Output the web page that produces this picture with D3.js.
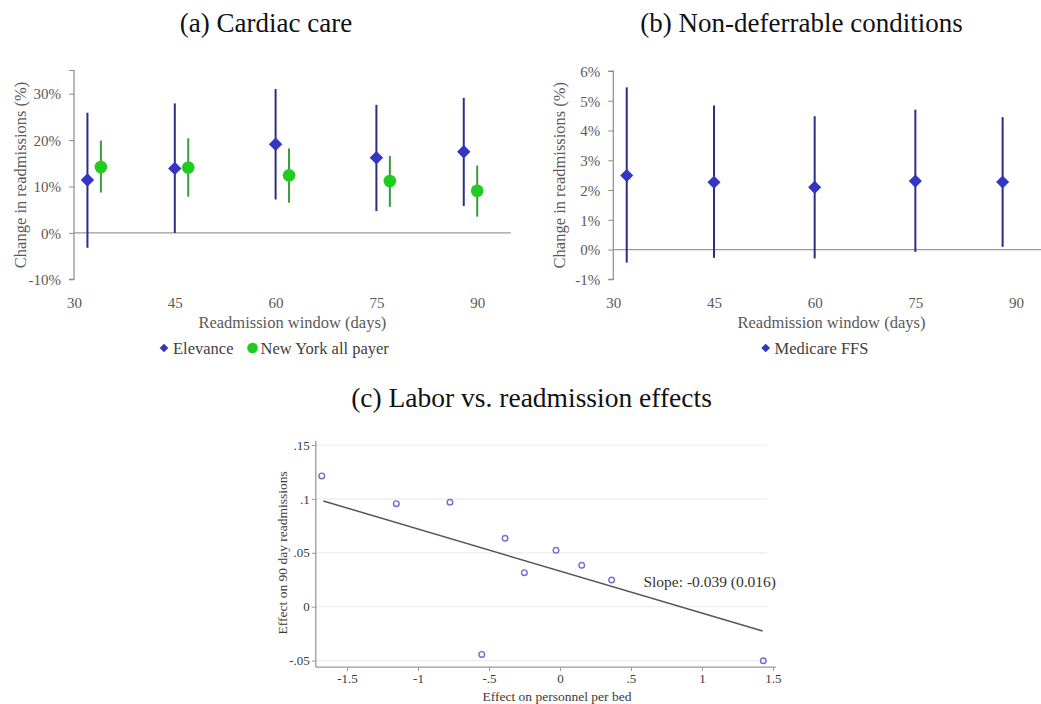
<!DOCTYPE html>
<html>
<head>
<meta charset="utf-8">
<script src="https://cdn.jsdelivr.net/npm/d3@7/dist/d3.min.js"></script>
<style>
  body { margin: 0; background: #fff; }
  svg text { font-family: "Liberation Serif", "Times New Roman", serif; }
</style>
</head>
<body>
<div id="chart"></div>
<script>
// readmission windows (days) and tick labels
var windowTicks = [30, 45, 60, 75, 90];

// (a) cardiac care, Elevance
var elevanceX = [32, 45, 60, 75, 88];
var elevanceEst = [11.4, 13.9, 19.1, 16.2, 17.5];
var elevanceLo = [-3.2, 0.0, 7.2, 4.7, 5.8];
var elevanceHi = [25.9, 27.9, 31.0, 27.6, 29.1];

// (a) cardiac care, New York all payer
var nyX = [34, 47, 62, 77, 90];
var nyEst = [14.2, 14.1, 12.4, 11.2, 9.1];
var nyLo = [8.7, 7.8, 6.5, 5.6, 3.5];
var nyHi = [19.9, 20.4, 18.2, 16.6, 14.5];

// (b) non-deferrable conditions, Medicare FFS
var medX = [32, 45, 60, 75, 88];
var medEst = [2.49, 2.26, 2.09, 2.30, 2.27];
var medLo = [-0.44, -0.28, -0.30, -0.08, 0.09];
var medHi = [5.45, 4.84, 4.48, 4.70, 4.45];

// (c) labor vs readmission effects
var laborX = [-1.678, -1.153, -0.775, -0.387, -0.551, -0.251, -0.028, 0.153, 0.364, 1.432];
var readmY = [0.1213, 0.0956, 0.0969, 0.0635, -0.0442, 0.0316, 0.0523, 0.0384, 0.0248, -0.0501];
var fitX = [-1.667, 1.427];
var fitY = [0.0981, -0.0226];
var cXTicks = [-1.5, -1, -0.5, 0, 0.5, 1, 1.5];
var cYTicks = [-0.05, 0, 0.05, 0.1, 0.15];

var width = 1041, height = 704;
var svg = d3.select("#chart").append("svg")
  .attr("width", width).attr("height", height);

var blueFill = "#3535c4", blueLine = "#2c2c86";
var greenFill = "#1fcc1f", greenLine = "#3c9a3c";
var greyText = "#595959";

function zip(xs, est, lo, hi) {
  return xs.map(function (x, i) { return { x: x, est: est[i], lo: lo[i], hi: hi[i] }; });
}

// shared drawing for panels (a) and (b)
function panel(opts) {
  var g = svg.append("g");
  var x = opts.x, y = opts.y;

  g.append("text")
    .attr("x", opts.titleX).attr("y", 32)
    .attr("text-anchor", "middle")
    .style("font-size", "27px").attr("fill", "#111")
    .text(opts.title);

  // y axis
  var yAxis = d3.axisLeft(y).tickValues(opts.yTicks).tickSize(5)
    .tickFormat(function (d) { return d + "%"; });
  var ya = g.append("g").attr("transform", "translate(" + x.range()[0] + ",0)").call(yAxis);
  ya.select(".domain").attr("stroke", "#8c8c8c").attr("stroke-width", 1.2)
    .attr("d", "M-5," + y(opts.yTop) + "H0V" + y.range()[0] + "H-5");
  ya.selectAll(".tick line").attr("stroke", "#8c8c8c");
  ya.selectAll(".tick text").attr("x", -13).attr("dy", "0.35em")
    .style("font-size", "15px").attr("fill", greyText);

  // x axis labels (no line)
  var xAxis = d3.axisBottom(x).tickValues(windowTicks).tickSize(0).tickPadding(0);
  var xa = g.append("g").attr("transform", "translate(0," + (y.range()[0] + 23) + ")").call(xAxis);
  xa.select(".domain").remove();
  xa.selectAll(".tick text").attr("dy", "0.35em").style("font-size", "15px").attr("fill", greyText);

  // zero line
  g.append("line")
    .attr("x1", x.range()[0]).attr("x2", x.range()[1])
    .attr("y1", y(0)).attr("y2", y(0))
    .attr("stroke", "#9a9a9a").attr("stroke-width", 1.3);

  // axis titles
  g.append("text")
    .attr("x", (x(30) + x(95)) / 2).attr("y", 328)
    .attr("text-anchor", "middle").style("font-size", "16.5px").attr("fill", greyText)
    .text("Readmission window (days)");
  g.append("text")
    .attr("transform", "translate(" + opts.yTitleX + "," + y((opts.yTop + y.domain()[0]) / 2) + ") rotate(-90)")
    .attr("text-anchor", "middle").attr("dy", "0.35em")
    .style("font-size", "16.5px").attr("fill", greyText)
    .text("Change in readmissions (%)");

  return g;
}

function errorBars(g, x, y, data, color) {
  g.selectAll(null).data(data).enter().append("line")
    .attr("x1", function (d) { return x(d.x); })
    .attr("x2", function (d) { return x(d.x); })
    .attr("y1", function (d) { return y(d.lo); })
    .attr("y2", function (d) { return y(d.hi); })
    .attr("stroke", color).attr("stroke-width", 2);
}

// diamonds are rotated squares
function diamonds(g, x, y, data, size) {
  g.selectAll(null).data(data).enter().append("path")
    .attr("d", d3.symbol().type(d3.symbolSquare).size(size)())
    .attr("transform", function (d) { return "translate(" + x(d.x) + "," + y(d.est) + ") rotate(45)"; })
    .attr("fill", blueFill);
}

// ---- panel (a)
var xa = d3.scaleLinear().domain([30, 95]).range([74, 510.8]);
var ya = d3.scaleLinear().domain([-10, 35]).range([279.3, 70.5]);
var ga = panel({ x: xa, y: ya, yTop: 35, yTicks: [-10, 0, 10, 20, 30],
  title: "(a) Cardiac care", titleX: 266, yTitleX: 20 });

var elevance = zip(elevanceX, elevanceEst, elevanceLo, elevanceHi);
var ny = zip(nyX, nyEst, nyLo, nyHi);
errorBars(ga, xa, ya, elevance, blueLine);
errorBars(ga, xa, ya, ny, greenLine);
diamonds(ga, xa, ya, elevance, 90);
ga.selectAll(null).data(ny).enter().append("circle")
  .attr("cx", function (d) { return xa(d.x); })
  .attr("cy", function (d) { return ya(d.est); })
  .attr("r", 6.3).attr("fill", greenFill);

// legend (a)
var la = ga.append("g").attr("transform", "translate(0,348)");
la.append("path").attr("d", d3.symbol().type(d3.symbolSquare).size(38)())
  .attr("transform", "translate(164,0) rotate(45)").attr("fill", blueFill);
la.append("text").attr("x", 173).attr("dy", "0.35em").style("font-size", "16.5px")
  .attr("fill", "#404040").text("Elevance");
la.append("circle").attr("cx", 252.5).attr("r", 5.3).attr("fill", greenFill);
la.append("text").attr("x", 260.5).attr("dy", "0.35em").style("font-size", "16.5px")
  .attr("fill", "#404040").text("New York all payer");

// ---- panel (b)
var xb = d3.scaleLinear().domain([30, 95]).range([613.3, 1049.6]);
var yb = d3.scaleLinear().domain([-1, 6]).range([279.3, 71]);
var gb = panel({ x: xb, y: yb, yTop: 6, yTicks: [-1, 0, 1, 2, 3, 4, 5, 6],
  title: "(b) Non-deferrable conditions", titleX: 801.5, yTitleX: 559.5 });
var medicare = zip(medX, medEst, medLo, medHi);
errorBars(gb, xb, yb, medicare, blueLine);
diamonds(gb, xb, yb, medicare, 86);

var lb = gb.append("g").attr("transform", "translate(0,348)");
lb.append("path").attr("d", d3.symbol().type(d3.symbolSquare).size(38)())
  .attr("transform", "translate(765.7,0) rotate(45)").attr("fill", blueFill);
lb.append("text").attr("x", 774.5).attr("dy", "0.35em").style("font-size", "16.5px")
  .attr("fill", "#404040").text("Medicare FFS");

// ---- panel (c)
var gc = svg.append("g");
gc.append("text").attr("x", 531.5).attr("y", 407).attr("text-anchor", "middle")
  .style("font-size", "27.5px").attr("fill", "#111").text("(c) Labor vs. readmission effects");

var xc = d3.scaleLinear().domain([-1.72, 1.52]).range([315.8, 775.8]);
var yc = d3.scaleLinear().domain([-0.056, 0.154]).range([667.1, 440.7]);
// stata style: ".05", "-.5", plain hyphen
function fmtC(d) {
  var s = String(+d.toFixed(2));
  return s.replace(/^0\./, ".").replace(/^-0\./, "-.");
}

// gridlines
gc.selectAll(null).data(cYTicks).enter().append("line")
  .attr("x1", xc.range()[0]).attr("x2", xc(1.46))
  .attr("y1", function (d) { return yc(d); }).attr("y2", function (d) { return yc(d); })
  .attr("stroke", "#ececec").attr("stroke-width", 1.2);

var ycAxis = gc.append("g").attr("transform", "translate(" + xc.range()[0] + ",0)")
  .call(d3.axisLeft(yc).tickValues(cYTicks).tickSize(4).tickPadding(2).tickFormat(fmtC));
var xcAxis = gc.append("g").attr("transform", "translate(0," + yc.range()[0] + ")")
  .call(d3.axisBottom(xc).tickValues(cXTicks).tickSize(4).tickPadding(3).tickFormat(fmtC));
[ycAxis, xcAxis].forEach(function (a) {
  a.select(".domain").attr("stroke", "#9a9a9a").attr("stroke-width", 1.3);
  a.selectAll(".tick line").attr("stroke", "#9a9a9a");
  a.selectAll(".tick text").style("font-size", "13px").attr("fill", "#3a3a3a");
});
ycAxis.select(".domain").attr("d", "M0," + yc.range()[1] + "V" + yc.range()[0]);
xcAxis.select(".domain").attr("d", "M" + xc.range()[0] + ",0H" + xc.range()[1]);

gc.append("text").attr("x", xc(0) - 3).attr("y", 701).attr("text-anchor", "middle")
  .style("font-size", "13.5px").attr("fill", "#3a3a3a").text("Effect on personnel per bed");
gc.append("text")
  .attr("transform", "translate(282," + yc(0.05) + ") rotate(-90)")
  .attr("text-anchor", "middle").attr("dy", "0.35em")
  .style("font-size", "13.5px").attr("fill", "#3a3a3a").text("Effect on 90 day readmissions");

// fit line
var fit = fitX.map(function (v, i) { return [v, fitY[i]]; });
gc.append("path").datum(fit)
  .attr("d", d3.line().x(function (d) { return xc(d[0]); }).y(function (d) { return yc(d[1]); }))
  .attr("stroke", "#555").attr("stroke-width", 1.5).attr("fill", "none");

// points
var pts = laborX.map(function (v, i) { return { x: v, y: readmY[i] }; });
gc.selectAll(null).data(pts).enter().append("circle")
  .attr("cx", function (d) { return xc(d.x); })
  .attr("cy", function (d) { return yc(d.y); })
  .attr("r", 2.8).attr("fill", "none").attr("stroke", "#7a6ad6").attr("stroke-width", 1.4);

gc.append("text").attr("x", 776).attr("y", 587).attr("text-anchor", "end")
  .style("font-size", "15.5px").attr("fill", "#333").text("Slope: -0.039 (0.016)");
</script>
</body>
</html>
